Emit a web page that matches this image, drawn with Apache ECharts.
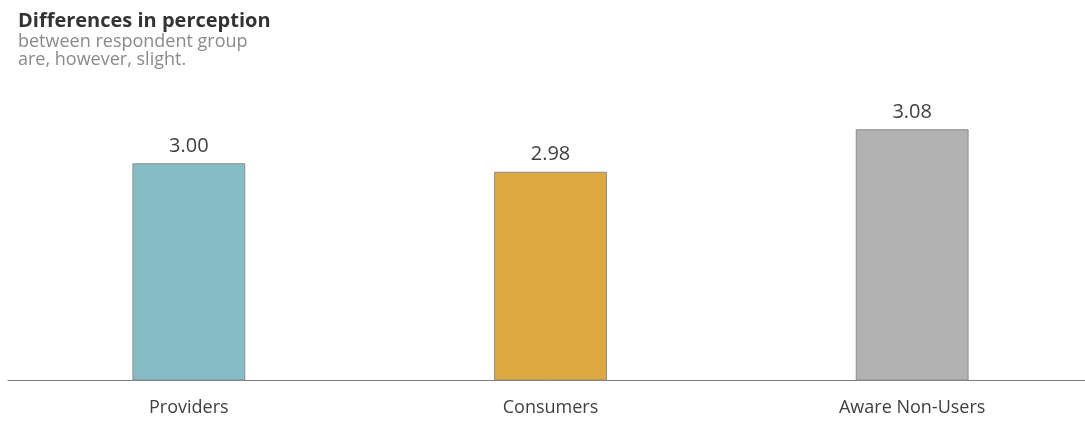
<!DOCTYPE html>
<html><head><meta charset="utf-8">
<script src="https://cdn.jsdelivr.net/npm/echarts@6/dist/echarts.min.js"></script>
<style>html,body{margin:0;padding:0;background:#fff;overflow:hidden}#c{width:1093px;height:421px}</style>
</head><body><div id="c"></div>
<script>
const categories = ['Providers', 'Consumers', 'Aware Non-Users'];
const values = [3.00, 2.98, 3.08];
const colors = ['#86BCC6', '#DDAA42', '#B2B2B2'];
const titleText = 'Differences in perception';
const subtitleLines = ['between respondent group', 'are, however, slight.'];

const FONT = '"Open Sans", "Noto Sans", sans-serif';
const chart = echarts.init(document.getElementById('c'));
chart.setOption({
  animation: false,
  title: [
    {text: titleText, left: 18, top: 11, padding: 0, textStyle: {fontFamily: FONT, fontSize: 20, fontWeight: 'bold', color: '#333333'}},
    {text: subtitleLines.join('\n'), left: 18, top: 33, padding: 0, textStyle: {fontFamily: FONT, fontSize: 18, fontWeight: 'normal', color: '#8a8a8a', lineHeight: 18}}
  ],
  grid: {left: 8, right: 0, top: 82.5, bottom: 41, containLabel: false},
  xAxis: {
    type: 'category', data: categories,
    axisLine: {lineStyle: {color: '#7f7f7f', width: 1}},
    axisTick: {show: false},
    axisLabel: {fontFamily: FONT, fontSize: 18, color: '#404040', margin: 19}
  },
  yAxis: {type: 'value', min: 2.49, max: 3.19, show: false, splitLine: {show: false}},
  series: [{
    type: 'bar', barWidth: '31.2%',
    data: values.map((v, i) => ({value: v, itemStyle: {color: colors[i]}})),
    itemStyle: {borderColor: '#8c8c8c', borderWidth: 1},
    label: {show: true, position: 'top', distance: 7, formatter: p => p.value.toFixed(2), fontFamily: FONT, fontSize: 20, color: '#404040'}
  }]
});
</script></body></html>
